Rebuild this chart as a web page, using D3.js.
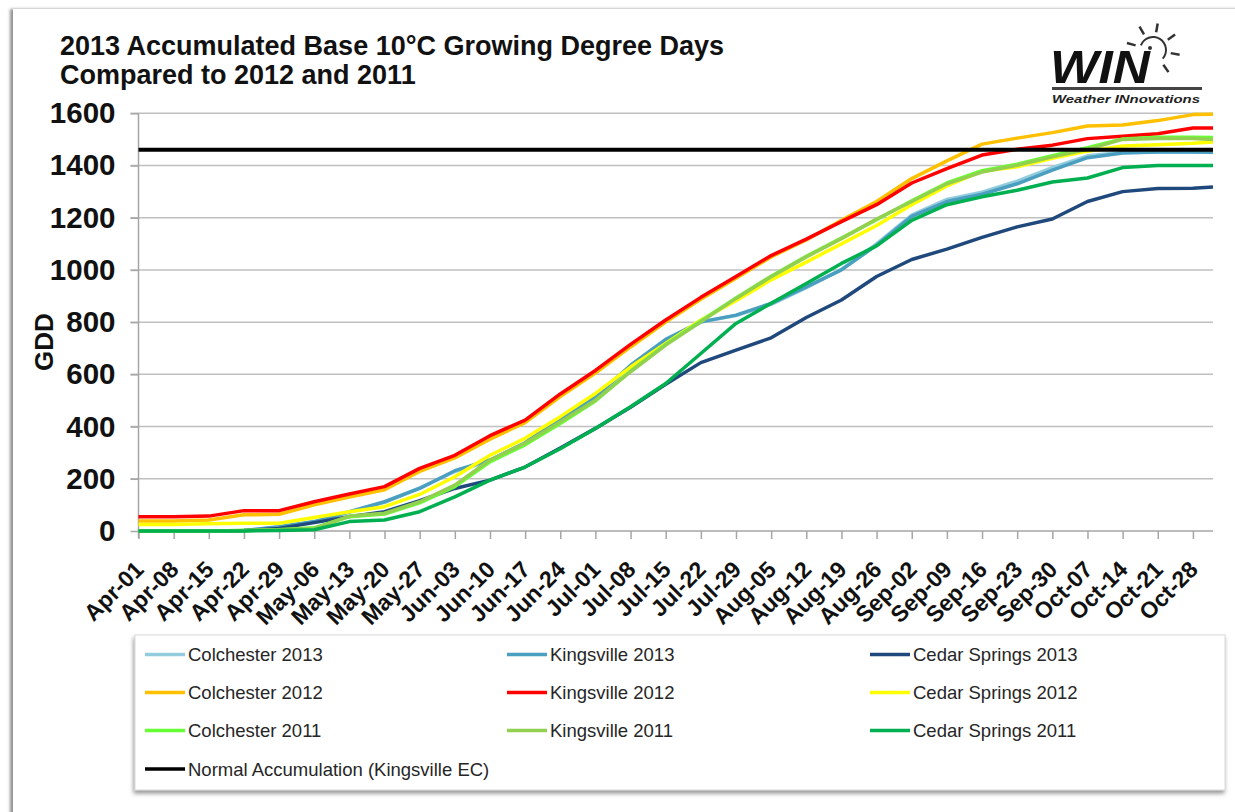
<!DOCTYPE html>
<html>
<head>
<meta charset="utf-8">
<script src="https://cdn.jsdelivr.net/npm/d3@7"></script>
<style>
  body { margin: 0; background: #fff; }
  text { font-family: "Liberation Sans", Arial, sans-serif; }
</style>
</head>
<body>
<div id="chart"></div>
<script>
// Weekly readings (plus the last day of the chart)
const dates = [
  "2013-04-01", "2013-04-08", "2013-04-15", "2013-04-22", "2013-04-29",
  "2013-05-06", "2013-05-13", "2013-05-20", "2013-05-27", "2013-06-03",
  "2013-06-10", "2013-06-17", "2013-06-24", "2013-07-01", "2013-07-08",
  "2013-07-15", "2013-07-22", "2013-07-29", "2013-08-05", "2013-08-12",
  "2013-08-19", "2013-08-26", "2013-09-02", "2013-09-09", "2013-09-16",
  "2013-09-23", "2013-09-30", "2013-10-07", "2013-10-14", "2013-10-21",
  "2013-10-28", "2013-11-01"
];

const colchester2013 = [0, 0, 0, 2, 14, 34, 72, 110, 165, 228, 268, 335, 428, 510, 630, 730,
  800, 825, 868, 932, 1002, 1100, 1210, 1270, 1298, 1340, 1392, 1437, 1450, 1452, 1452, 1451];
const kingsville2013 = [0, 0, 0, 2, 16, 36, 74, 112, 163, 231, 272, 338, 431, 514, 635, 734,
  801, 827, 872, 935, 1000, 1095, 1205, 1262, 1290, 1330, 1382, 1430, 1448, 1452, 1452, 1451];
const cedarSprings2013 = [0, 0, 0, 2, 10, 32, 55, 74, 116, 163, 195, 245, 318, 393, 474, 562,
  645, 693, 740, 818, 885, 975, 1040, 1080, 1125, 1165, 1195, 1262, 1300, 1312, 1313, 1318];
const colchester2012 = [38, 38, 42, 62, 64, 100, 130, 158, 228, 280, 352, 415, 515, 605, 705, 800,
  888, 968, 1050, 1115, 1190, 1262, 1350, 1418, 1482, 1505, 1526, 1551, 1555, 1572, 1595, 1596];
const kingsville2012 = [55, 55, 57, 78, 78, 112, 142, 170, 240, 290, 365, 425, 525, 615, 715, 808,
  895, 975, 1055, 1118, 1185, 1250, 1333, 1388, 1440, 1462, 1478, 1503, 1512, 1522, 1544, 1544];
const cedarSprings2012 = [25, 25, 28, 30, 30, 52, 74, 93, 140, 208, 290, 355, 438, 527, 628, 718,
  808, 882, 962, 1030, 1100, 1170, 1250, 1322, 1378, 1395, 1428, 1455, 1475, 1480, 1485, 1490];
const colchester2011 = [0, 0, 0, 2, 5, 12, 55, 65, 108, 170, 265, 330, 412, 498, 612, 715,
  805, 893, 976, 1052, 1122, 1192, 1265, 1333, 1380, 1405, 1438, 1468, 1502, 1508, 1508, 1507];
const kingsville2011 = [0, 0, 0, 2, 5, 10, 57, 68, 112, 176, 272, 336, 418, 501, 610, 712,
  801, 891, 974, 1050, 1120, 1195, 1262, 1330, 1375, 1401, 1433, 1462, 1500, 1503, 1503, 1500];
const cedarSprings2011 = [0, 0, 0, 0, 2, 5, 36, 42, 74, 131, 195, 245, 315, 393, 476, 565,
  680, 795, 872, 948, 1025, 1092, 1190, 1250, 1280, 1305, 1337, 1352, 1392, 1400, 1400, 1400];
const normalAccumulation = 1460;

const yTicks = [0, 200, 400, 600, 800, 1000, 1200, 1400, 1600];

const series = [
  { name: "Colchester 2013", values: colchester2013, color: "#93cddd" },
  { name: "Kingsville 2013", values: kingsville2013, color: "#4a9fc0" },
  { name: "Cedar Springs 2013", values: cedarSprings2013, color: "#1f497d" },
  { name: "Colchester 2012", values: colchester2012, color: "#ffc000" },
  { name: "Kingsville 2012", values: kingsville2012, color: "#ff0000" },
  { name: "Cedar Springs 2012", values: cedarSprings2012, color: "#ffff00" },
  { name: "Colchester 2011", values: colchester2011, color: "#66ff33" },
  { name: "Kingsville 2011", values: kingsville2011, color: "#92d050" },
  { name: "Cedar Springs 2011", values: cedarSprings2011, color: "#00b050" }
];

const parseDate = d3.utcParse("%Y-%m-%d");
const formatDate = d3.utcFormat("%b-%d");
const days = dates.map(parseDate);

// Page and plot geometry
const W = 1235, H = 812;
const plot = { left: 138.5, right: 1213, top: 113.3, bottom: 531 };

const svg = d3.select("#chart")
  .append("svg")
  .attr("width", W)
  .attr("height", H);

// Shadows for the chart frame and legend box
const defs = svg.append("defs");
defs.append("filter").attr("id", "frameShadow")
  .attr("x", "-5%").attr("y", "-5%").attr("width", "110%").attr("height", "110%")
  .append("feDropShadow")
  .attr("dx", -3).attr("dy", 0).attr("stdDeviation", 1.5)
  .attr("flood-color", "#777").attr("flood-opacity", 0.8);
defs.append("filter").attr("id", "legendShadow")
  .attr("x", "-5%").attr("y", "-10%").attr("width", "110%").attr("height", "125%")
  .append("feDropShadow")
  .attr("dx", -1).attr("dy", 3).attr("stdDeviation", 2)
  .attr("flood-color", "#666").attr("flood-opacity", 0.7);

svg.append("rect")
  .attr("x", 13).attr("y", 9)
  .attr("width", 1240).attr("height", 830)
  .attr("fill", "#fff")
  .attr("filter", "url(#frameShadow)");

// Scales
const x = d3.scaleUtc()
  .domain(d3.extent(days))
  .range([plot.left, plot.right]);

const y = d3.scaleLinear()
  .domain([0, 1600])
  .range([plot.bottom, plot.top]);

// Horizontal gridlines
svg.append("g")
  .selectAll("line")
  .data(yTicks.filter(d => d > 0))
  .enter()
  .append("line")
  .attr("x1", plot.left - 8)
  .attr("x2", plot.right)
  .attr("y1", d => y(d))
  .attr("y2", d => y(d))
  .attr("stroke", "#c0c0c0")
  .attr("stroke-width", 1.5);

// Y axis
const yAxis = svg.append("g")
  .attr("transform", `translate(${plot.left},0)`)
  .call(d3.axisLeft(y).tickValues(yTicks).tickFormat(d3.format("d")).tickSize(8).tickPadding(15));
yAxis.select(".domain").attr("stroke", "#a6a6a6").attr("stroke-width", 1.5)
  .attr("d", `M0,${plot.top}V${plot.bottom + 7}`);
yAxis.selectAll(".tick line").attr("stroke", "#a6a6a6").attr("stroke-width", 1.5);
yAxis.selectAll(".tick text")
  .attr("font-family", "Liberation Sans, Arial, sans-serif")
  .attr("font-size", 29.5)
  .attr("font-weight", "bold")
  .attr("fill", "#111");

// X axis, one tick per week
const weekTicks = d3.utcDay.range(days[0], days[days.length - 1], 7);
const xAxis = svg.append("g")
  .attr("transform", `translate(0,${plot.bottom})`)
  .call(d3.axisBottom(x).tickValues(weekTicks).tickSize(8).tickFormat(formatDate));
xAxis.select(".domain").attr("stroke", "#a6a6a6").attr("stroke-width", 1.5)
  .attr("d", `M${plot.left},0H${plot.right}`);
xAxis.selectAll(".tick line").attr("stroke", "#a6a6a6").attr("stroke-width", 1.5);
xAxis.selectAll(".tick text")
  .attr("font-family", "Liberation Sans, Arial, sans-serif")
  .attr("font-size", 23)
  .attr("font-weight", "bold")
  .attr("fill", "#111")
  .attr("y", 0)
  .attr("dy", 0)
  .style("text-anchor", "end")
  .attr("transform", "translate(6,40) rotate(-45)");

// Y axis label
svg.append("text")
  .attr("transform", "translate(53,342) rotate(-90)")
  .attr("text-anchor", "middle")
  .attr("font-size", 26)
  .attr("font-weight", "bold")
  .attr("fill", "#111")
  .text("GDD");

// Series lines
const line = d3.line()
  .x((d, i) => x(days[i]))
  .y(d => y(d));

svg.append("g")
  .selectAll("path")
  .data(series)
  .enter()
  .append("path")
  .attr("d", d => line(d.values))
  .attr("fill", "none")
  .attr("stroke", d => d.color)
  .attr("stroke-width", 3.5)
  .attr("stroke-linejoin", "round");

// Normal accumulation reference line
svg.append("line")
  .attr("x1", x(days[0]))
  .attr("x2", x(days[days.length - 1]))
  .attr("y1", y(normalAccumulation))
  .attr("y2", y(normalAccumulation))
  .attr("stroke", "#000")
  .attr("stroke-width", 4);

// Title
const title = svg.append("g").attr("font-weight", "bold").attr("fill", "#111").attr("font-size", 27);
title.append("text").attr("x", 60).attr("y", 55)
  .text("2013 Accumulated Base 10°C Growing Degree Days");
title.append("text").attr("x", 60).attr("y", 84)
  .text("Compared to 2012 and 2011");

// Logo
const logo = svg.append("g");
logo.append("text")
  .attr("x", 1050).attr("y", 83)
  .attr("font-size", 46)
  .attr("font-weight", "bold")
  .attr("font-style", "italic")
  .attr("textLength", 100)
  .attr("lengthAdjust", "spacingAndGlyphs")
  .attr("fill", "#111")
  .text("WIN");
logo.append("rect")
  .attr("x", 1052).attr("y", 87)
  .attr("width", 150).attr("height", 3)
  .attr("fill", "#444");
logo.append("text")
  .attr("x", 1052).attr("y", 103)
  .attr("font-size", 11)
  .attr("font-weight", "bold")
  .attr("font-style", "italic")
  .attr("textLength", 148)
  .attr("lengthAdjust", "spacingAndGlyphs")
  .attr("fill", "#222")
  .text("Weather INnovations");
const sun = { cx: 1153, cy: 50, r: 13 };
logo.append("path")
  .attr("d", d3.arc()({ innerRadius: sun.r - 1, outerRadius: sun.r + 1, startAngle: -1.2, endAngle: 2.3 }))
  .attr("transform", `translate(${sun.cx},${sun.cy})`)
  .attr("fill", "#333");
logo.append("circle").attr("cx", sun.cx - 3).attr("cy", sun.cy - 2).attr("r", 2).attr("fill", "#333");
[-165, -120, -80, -35, 10, 55].forEach(a => {
  const t = a * Math.PI / 180;
  logo.append("line")
    .attr("x1", sun.cx + Math.cos(t) * 18).attr("y1", sun.cy + Math.sin(t) * 18)
    .attr("x2", sun.cx + Math.cos(t) * 27).attr("y2", sun.cy + Math.sin(t) * 27)
    .attr("stroke", "#333").attr("stroke-width", 2.5);
});

// Legend
const legendItems = series.concat([{ name: "Normal Accumulation (Kingsville EC)", color: "#000" }]);
svg.append("rect")
  .attr("x", 135).attr("y", 635)
  .attr("width", 1090).attr("height", 155)
  .attr("fill", "#fff")
  .attr("stroke", "#d9d9d9")
  .attr("filter", "url(#legendShadow)");

const colX = [145, 507, 870];
const rowY = [654.5, 692.5, 730.5, 769];
legendItems.forEach((item, i) => {
  const lx = colX[i % 3];
  const ly = rowY[Math.floor(i / 3)];
  svg.append("line")
    .attr("x1", lx).attr("x2", lx + 40)
    .attr("y1", ly).attr("y2", ly)
    .attr("stroke", item.color)
    .attr("stroke-width", 3.5);
  svg.append("text")
    .attr("x", lx + 43)
    .attr("y", ly + 6.5)
    .attr("font-size", 18.5)
    .attr("fill", "#262626")
    .text(item.name);
});
</script>
</body>
</html>
